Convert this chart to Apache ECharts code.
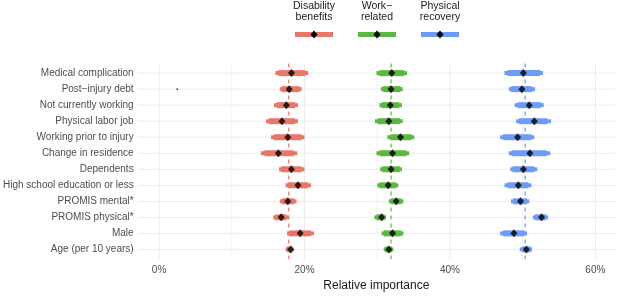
<!DOCTYPE html>
<html>
<head>
<meta charset="utf-8">
<script src="https://cdn.jsdelivr.net/npm/echarts@6/dist/echarts.min.js"></script>
<style>
  html, body { margin: 0; padding: 0; background: #fff; }
  #chart { width: 620px; height: 297px; }
</style>
</head>
<body>
<div id="chart"></div>
<script>
// categories, top to bottom
var categories = [
    'Medical complication', 'Post\u2212injury debt', 'Not currently working', 'Physical labor job',
    'Working prior to injury', 'Change in residence', 'Dependents', 'High school education or less',
    'PROMIS mental*', 'PROMIS physical*', 'Male', 'Age (per 10 years)'
];
var groupNames = ['Disability\nbenefits', 'Work\u2212\nrelated', 'Physical\nrecovery'];
var colors = ['#E8776B', '#5DB744', '#6C9CF7'];

// Disability benefits
var disabPoint   = [18.2, 17.9, 17.5, 16.9, 17.7, 16.4, 18.2, 19.1, 17.7, 16.8, 19.4, 18.1];
var disabOuterLo = [16.0, 16.6, 15.8, 14.7, 15.4, 14.0, 16.5, 17.4, 16.6, 15.7, 17.6, 17.4];
var disabOuterHi = [20.5, 19.6, 19.1, 19.1, 20.0, 19.0, 20.0, 20.9, 18.9, 17.8, 21.3, 18.5];
var disabInnerLo = [16.4, 16.9, 16.2, 15.1, 15.8, 14.5, 16.8, 17.7, 16.9, 16.0, 17.9, 17.6];
var disabInnerHi = [20.1, 19.3, 18.7, 18.7, 19.6, 18.5, 19.6, 20.5, 18.6, 17.5, 20.9, 18.3];

// Work-related
var workPoint   = [32.0, 31.9, 31.8, 31.6, 33.2, 32.1, 31.9, 31.5, 32.6, 30.6, 32.1, 31.6];
var workOuterLo = [29.9, 30.5, 30.3, 29.7, 31.4, 29.9, 30.4, 30.0, 31.6, 29.6, 30.6, 30.9];
var workOuterHi = [34.1, 33.5, 33.4, 33.5, 35.1, 34.4, 33.4, 32.9, 33.6, 31.2, 33.6, 32.2];
var workInnerLo = [30.3, 30.8, 30.6, 30.1, 31.8, 30.3, 30.7, 30.3, 31.9, 29.9, 30.9, 31.1];
var workInnerHi = [33.7, 33.2, 33.0, 33.1, 34.7, 34.0, 33.1, 32.6, 33.3, 31.0, 33.3, 32.0];

// Physical recovery
var physPoint   = [50.1, 49.9, 50.9, 51.6, 49.3, 51.0, 50.1, 49.4, 49.7, 52.6, 48.8, 50.5];
var physOuterLo = [47.5, 48.1, 48.9, 49.1, 46.9, 48.1, 48.3, 47.5, 48.4, 51.4, 46.9, 49.6];
var physOuterHi = [52.8, 51.7, 52.9, 53.9, 51.6, 53.8, 52.0, 51.2, 50.9, 53.5, 50.6, 51.3];
var physInnerLo = [47.9, 48.4, 49.3, 49.5, 47.3, 48.5, 48.6, 47.9, 48.7, 51.7, 47.3, 49.9];
var physInnerHi = [52.4, 51.3, 52.5, 53.4, 51.2, 53.3, 51.6, 50.8, 50.6, 53.2, 50.2, 51.1];

// overall reference (dashed) lines
var refLines = [17.83, 31.9, 50.34];
// stray point seen in the Post-injury debt row
var strayPoint = [[2.5, 1]];

var xTicks = [0, 20, 40, 60];
var xMinor = [10, 30, 50];

var groups = [
    [disabPoint, disabOuterLo, disabOuterHi, disabInnerLo, disabInnerHi],
    [workPoint, workOuterLo, workOuterHi, workInnerLo, workInnerHi],
    [physPoint, physOuterLo, physOuterHi, physInnerLo, physInnerHi]
];

var chart = echarts.init(document.getElementById('chart'), null, {renderer: 'canvas'});
var font = '"Liberation Sans", Arial, sans-serif';

var series = [];

// vertical lines spanning the whole panel (grid + dashed refs)
function vlineSeries(vals, z, styleFn){
    return {
        type: 'custom', z: z, silent: true, animation: false,
        encode: {x: 0},
        data: vals.map(function(v, i){ return [v, i]; }),
        renderItem: function(params, api){
            var cs = params.coordSys;
            var p = api.coord([api.value(0), 0]);
            return {
                type: 'line',
                shape: {x1: p[0], y1: cs.y, x2: p[0], y2: cs.y + cs.height},
                style: styleFn(api.value(1))
            };
        }
    };
}

// horizontal grid lines at each category
series.push({
    type: 'custom', z: 0, silent: true, animation: false,
    encode: {y: 0},
    data: categories.map(function(c, i){ return [i]; }),
    renderItem: function(params, api){
        var cs = params.coordSys;
        var p = api.coord([0, api.value(0)]);
        return {
            type: 'line',
            shape: {x1: cs.x, y1: p[1], x2: cs.x + cs.width, y2: p[1]},
            style: {stroke: '#ebebeb', lineWidth: 1}
        };
    }
});
series.push(vlineSeries(xTicks, 0, function(){ return {stroke: '#ebebeb', lineWidth: 1}; }));
series.push(vlineSeries(xMinor, 0, function(){ return {stroke: '#f3f3f3', lineWidth: 1}; }));
series.push(vlineSeries(refLines, 1, function(k){
    return {stroke: colors[k], lineWidth: 1.2, lineDash: [4, 4]};
}));

groups.forEach(function(g, k){
    var rows = categories.map(function(c, i){
        return [g[1][i], g[2][i], i, g[3][i], g[4][i]];
    });
    series.push({
        type: 'custom',
        z: 2,
        animation: false,
        encode: {x: [0, 1], y: 2},
        data: rows,
        renderItem: function(params, api){
            var y = api.value(2);
            var a = api.coord([api.value(0), y]);
            var b = api.coord([api.value(1), y]);
            var c = api.coord([api.value(3), y]);
            var d = api.coord([api.value(4), y]);
            return {
                type: 'group',
                children: [
                    {type: 'rect', shape: {x: a[0], y: a[1] - 2, width: b[0] - a[0], height: 4}, style: {fill: colors[k]}},
                    {type: 'rect', shape: {x: c[0], y: c[1] - 3, width: d[0] - c[0], height: 6}, style: {fill: colors[k]}}
                ]
            };
        }
    });
    series.push({
        type: 'scatter',
        z: 3,
        animation: false,
        symbol: 'diamond',
        symbolSize: [7, 8],
        itemStyle: {color: '#000'},
        data: g[0].map(function(v, i){ return [v, i]; })
    });
});

series.push({
    type: 'scatter', z: 3, animation: false,
    symbolSize: 2, itemStyle: {color: '#333'},
    data: strayPoint
});

// legend drawn at the top: title above a key
var legendX = [314, 377, 440];
var legendGraphics = [];
groupNames.forEach(function(name, k){
    legendGraphics.push({
        type: 'text', x: legendX[k], y: 1,
        style: {text: name, fill: '#1a1a1a', font: '10.5px ' + font, align: 'center', verticalAlign: 'top', lineHeight: 11}
    });
    legendGraphics.push({
        type: 'rect', shape: {x: legendX[k] - 19, y: 32, width: 38, height: 5},
        style: {fill: colors[k]}
    });
    legendGraphics.push({
        type: 'polygon',
        shape: {points: [[legendX[k], 30.5], [legendX[k] + 3.5, 34.5], [legendX[k], 38.5], [legendX[k] - 3.5, 34.5]]},
        style: {fill: '#000'}
    });
});

var option = {
    animation: false,
    grid: {left: 137, right: 5, top: 63.5, bottom: 31.1, containLabel: false},
    graphic: legendGraphics,
    xAxis: {
        type: 'value',
        min: -2.95,
        max: 62.7,
        name: 'Relative importance',
        nameLocation: 'middle',
        nameGap: 21,
        nameTextStyle: {color: '#1a1a1a', fontSize: 12, fontFamily: font},
        axisLine: {show: false},
        axisTick: {show: false},
        splitLine: {show: false},
        axisLabel: {
            customValues: xTicks,
            formatter: function(v){ return v + '%'; },
            color: '#4d4d4d', fontSize: 10, fontFamily: font, margin: 6
        }
    },
    yAxis: {
        type: 'value',
        inverse: true,
        min: -0.6,
        max: 11.6,
        axisLine: {show: false},
        axisTick: {show: false},
        splitLine: {show: false},
        axisLabel: {
            customValues: categories.map(function(c, i){ return i; }),
            formatter: function(v){ return categories[Math.round(v)]; },
            color: '#4d4d4d', fontSize: 10, fontFamily: font, margin: 4
        }
    },
    series: series
};

chart.setOption(option);
</script>
</body>
</html>
